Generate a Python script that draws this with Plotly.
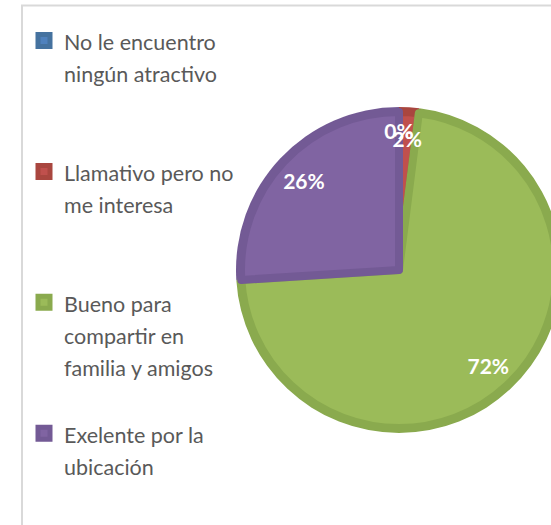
import plotly.graph_objects as go

labels = [
    "No le encuentro<br>ningún atractivo",
    "Llamativo pero no<br>me interesa",
    "Bueno para<br>compartir en<br>familia y amigos",
    "Exelente por la<br>ubicación",
]
values = [0, 2, 72, 26]
colors = ["#4F81BD", "#C0504D", "#9BBB59", "#8064A2"]
edge_colors = ["#45729F", "#A9463F", "#8AAA4E", "#735A95"]

W, H = 570, 525
SLOT_LINES = 4
legend_labels = []
for i, l in enumerate(labels):
    pad = 0 if i == len(labels) - 1 else SLOT_LINES - 1 - l.count("<br>")
    txt = '<span style="font-size:21.5px">' + l + "</span>"
    legend_labels.append(txt + "<br>&nbsp;" * pad)

cx, cy, R = 399, 270, 163  # pixel centre / radius of the pie


def dom(r):
    return dict(x=[(cx - r) / W, (cx + r) / W],
                y=[(H - cy - r) / H, (H - cy + r) / H])


pct = "%{percent:.0%}"
common = dict(labels=legend_labels, values=values, sort=False,
              direction="clockwise", rotation=0)
text_font = dict(family="Lato", size=21, color="white", weight="bold")

fig = go.Figure()
# darker base (bevel ring)
fig.add_trace(go.Pie(**common, marker=dict(colors=edge_colors), textinfo="none",
                     hoverinfo="skip", showlegend=False, domain=dom(R)))
# lighter face
fig.add_trace(go.Pie(**common,
                     marker=dict(colors=colors, line=dict(color=edge_colors, width=8)),
                     textinfo="none", domain=dom(R - 5)))
# labels for the large slices
fig.add_trace(go.Pie(**common, hole=0.6,
                     marker=dict(colors=["rgba(0,0,0,0)"] * 4),
                     texttemplate=["", "", pct, pct], textposition="inside",
                     insidetextorientation="horizontal", textfont=text_font,
                     hoverinfo="skip", showlegend=False, domain=dom(R)))
# labels for the thin slices
fig.add_trace(go.Pie(**common,
                     marker=dict(colors=["rgba(0,0,0,0)"] * 4),
                     texttemplate=[pct, pct, "", ""], textposition="inside",
                     insidetextorientation="horizontal", textfont=text_font,
                     hoverinfo="skip", showlegend=False, domain=dom(140)))

fig.add_shape(type="rect", xref="paper", yref="paper",
              x0=22 / W, x1=1.1, y0=-0.1, y1=1 - 5.5 / H,
              line=dict(color="#D9D9D9", width=2), fillcolor="rgba(0,0,0,0)",
              layer="below")

fig.update_layout(
    width=W, height=H, margin=dict(l=0, r=0, t=0, b=0),
    paper_bgcolor="white", plot_bgcolor="white",
    uniformtext=dict(mode="show", minsize=21),
    legend=dict(x=24 / W, xanchor="left", y=1 - 18 / H, yanchor="top",
                valign="top", font=dict(family="Lato", size=24.6, color="#595959"),
                bgcolor="rgba(0,0,0,0)", itemclick=False),
)

fig.write_html("out.html",
               config={"displayModeBar": False},
               post_script="document.body.style.margin='0';"
                           "document.body.style.overflow='hidden';")
